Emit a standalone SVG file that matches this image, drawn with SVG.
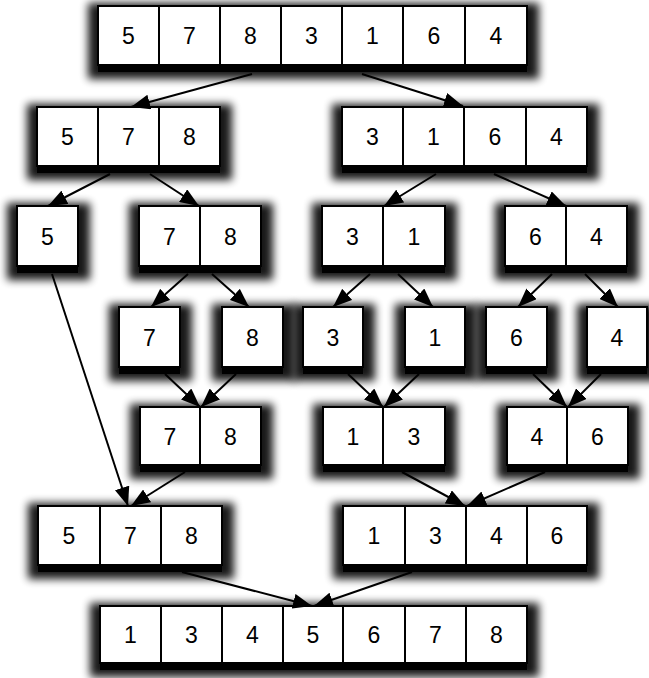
<svg xmlns="http://www.w3.org/2000/svg" width="649" height="678" viewBox="0 0 649 678">
<defs>
<filter id="blur" x="-30%" y="-30%" width="160%" height="160%"><feGaussianBlur stdDeviation="4.5"/></filter>
<marker id="ah" markerUnits="userSpaceOnUse" markerWidth="19" markerHeight="15" refX="19" refY="7.5" orient="auto"><path d="M0,0 L19,7.5 L0,15 z" fill="#000"/></marker>
</defs>
<style>
.sh{fill:#000;opacity:.9;filter:url(#blur)}
.base{fill:#000}
.cell{fill:#fff;stroke:#000;stroke-width:2}
.num{font-family:"Liberation Sans",Arial,sans-serif;font-size:23px;text-anchor:middle;fill:#000}
.edge{stroke:#000;stroke-width:2;fill:none;marker-end:url(#ah)}
</style>
<rect width="649" height="678" fill="#fff"/>

<g id="n0">
<rect class="sh" x="88" y="3" width="451" height="76"/><rect class="base" x="98" y="63" width="429" height="9"/>
<rect class="cell" x="98" y="6" width="61" height="59"/><rect class="cell" x="159" y="6" width="61" height="59"/><rect class="cell" x="220" y="6" width="61" height="59"/><rect class="cell" x="281" y="6" width="61" height="59"/><rect class="cell" x="342" y="6" width="61" height="59"/><rect class="cell" x="403" y="6" width="62" height="59"/><rect class="cell" x="465" y="6" width="62" height="59"/>
<text class="num" x="128.5" y="44">5</text><text class="num" x="189.5" y="44">7</text><text class="num" x="250.5" y="44">8</text><text class="num" x="311.5" y="44">3</text><text class="num" x="372.5" y="44">1</text><text class="num" x="434" y="44">6</text><text class="num" x="496" y="44">4</text>
</g>

<g id="n1">
<rect class="sh" x="27" y="104" width="205" height="76"/><rect class="base" x="37" y="164" width="183" height="9"/>
<rect class="cell" x="37" y="107" width="61" height="59"/><rect class="cell" x="98" y="107" width="61" height="59"/><rect class="cell" x="159" y="107" width="61" height="59"/>
<text class="num" x="67.5" y="145">5</text><text class="num" x="128.5" y="145">7</text><text class="num" x="189.5" y="145">8</text>
</g>

<g id="n2">
<rect class="sh" x="332" y="104" width="267" height="76"/><rect class="base" x="342" y="164" width="245" height="9"/>
<rect class="cell" x="342" y="107" width="61" height="59"/><rect class="cell" x="403" y="107" width="61" height="59"/><rect class="cell" x="464" y="107" width="62" height="59"/><rect class="cell" x="526" y="107" width="61" height="59"/>
<text class="num" x="372.5" y="145">3</text><text class="num" x="433.5" y="145">1</text><text class="num" x="495" y="145">6</text><text class="num" x="556.5" y="145">4</text>
</g>

<g id="n3">
<rect class="sh" x="7" y="203" width="83" height="77"/><rect class="base" x="17" y="264" width="61" height="9"/>
<rect class="cell" x="17" y="206" width="61" height="60"/>
<text class="num" x="47.5" y="244.5">5</text>
</g>

<g id="n4">
<rect class="sh" x="129" y="203" width="144" height="77"/><rect class="base" x="139" y="264" width="122" height="9"/>
<rect class="cell" x="139" y="206" width="61" height="60"/><rect class="cell" x="200" y="206" width="61" height="60"/>
<text class="num" x="169.5" y="244.5">7</text><text class="num" x="230.5" y="244.5">8</text>
</g>

<g id="n5">
<rect class="sh" x="312" y="203" width="145" height="77"/><rect class="base" x="322" y="264" width="123" height="9"/>
<rect class="cell" x="322" y="206" width="61" height="60"/><rect class="cell" x="383" y="206" width="62" height="60"/>
<text class="num" x="352.5" y="244.5">3</text><text class="num" x="414" y="244.5">1</text>
</g>

<g id="n6">
<rect class="sh" x="495" y="203" width="144" height="77"/><rect class="base" x="505" y="264" width="122" height="9"/>
<rect class="cell" x="505" y="206" width="61" height="60"/><rect class="cell" x="566" y="206" width="61" height="60"/>
<text class="num" x="535.5" y="244.5">6</text><text class="num" x="596.5" y="244.5">4</text>
</g>

<g id="n7">
<rect class="sh" x="109" y="304" width="83" height="77"/><rect class="base" x="119" y="365" width="61" height="9"/>
<rect class="cell" x="119" y="307" width="61" height="60"/>
<text class="num" x="149.5" y="345.5">7</text>
</g>
<g id="n8">
<rect class="sh" x="212" y="304" width="83" height="77"/><rect class="base" x="222" y="365" width="61" height="9"/>
<rect class="cell" x="222" y="307" width="61" height="60"/>
<text class="num" x="252.5" y="345.5">8</text>
</g>
<g id="n9">
<rect class="sh" x="293" y="304" width="82" height="77"/><rect class="base" x="303" y="365" width="60" height="9"/>
<rect class="cell" x="303" y="307" width="60" height="60"/>
<text class="num" x="333" y="345.5">3</text>
</g>
<g id="n10">
<rect class="sh" x="395" y="304" width="82" height="77"/><rect class="base" x="405" y="365" width="60" height="9"/>
<rect class="cell" x="405" y="307" width="60" height="60"/>
<text class="num" x="435" y="345.5">1</text>
</g>
<g id="n11">
<rect class="sh" x="476" y="304" width="83" height="77"/><rect class="base" x="486" y="365" width="61" height="9"/>
<rect class="cell" x="486" y="307" width="61" height="60"/>
<text class="num" x="516.5" y="345.5">6</text>
</g>
<g id="n12">
<rect class="sh" x="577" y="304" width="83" height="77"/><rect class="base" x="587" y="365" width="60" height="9"/>
<rect class="cell" x="587" y="307" width="60" height="60"/>
<text class="num" x="617" y="345.5">4</text>
</g>

<g id="n13">
<rect class="sh" x="130" y="404" width="143" height="75"/><rect class="base" x="140" y="463" width="121" height="9"/>
<rect class="cell" x="140" y="407" width="60" height="58"/><rect class="cell" x="200" y="407" width="61" height="58"/>
<text class="num" x="170" y="444.5">7</text><text class="num" x="230.5" y="444.5">8</text>
</g>
<g id="n14">
<rect class="sh" x="313" y="404" width="144" height="75"/><rect class="base" x="323" y="463" width="122" height="9"/>
<rect class="cell" x="323" y="407" width="60" height="58"/><rect class="cell" x="383" y="407" width="62" height="58"/>
<text class="num" x="353" y="444.5">1</text><text class="num" x="414" y="444.5">3</text>
</g>
<g id="n15">
<rect class="sh" x="497" y="404" width="143" height="75"/><rect class="base" x="507" y="463" width="121" height="9"/>
<rect class="cell" x="507" y="407" width="60" height="58"/><rect class="cell" x="567" y="407" width="61" height="58"/>
<text class="num" x="537" y="444.5">4</text><text class="num" x="597.5" y="444.5">6</text>
</g>

<g id="n16">
<rect class="sh" x="28" y="503" width="206" height="76"/><rect class="base" x="38" y="563" width="184" height="9"/>
<rect class="cell" x="38" y="506" width="62" height="59"/><rect class="cell" x="100" y="506" width="61" height="59"/><rect class="cell" x="161" y="506" width="61" height="59"/>
<text class="num" x="69" y="544">5</text><text class="num" x="130.5" y="544">7</text><text class="num" x="191.5" y="544">8</text>
</g>
<g id="n17">
<rect class="sh" x="333" y="503" width="266" height="76"/><rect class="base" x="343" y="563" width="244" height="9"/>
<rect class="cell" x="343" y="506" width="62" height="59"/><rect class="cell" x="405" y="506" width="61" height="59"/><rect class="cell" x="466" y="506" width="61" height="59"/><rect class="cell" x="527" y="506" width="60" height="59"/>
<text class="num" x="374" y="544">1</text><text class="num" x="435.5" y="544">3</text><text class="num" x="496.5" y="544">4</text><text class="num" x="557" y="544">6</text>
</g>

<g id="n18">
<rect class="sh" x="90" y="603" width="449" height="74"/><rect class="base" x="100" y="661" width="427" height="9"/>
<rect class="cell" x="100" y="606" width="61" height="57"/><rect class="cell" x="161" y="606" width="61" height="57"/><rect class="cell" x="222" y="606" width="61" height="57"/><rect class="cell" x="283" y="606" width="60" height="57"/><rect class="cell" x="343" y="606" width="62" height="57"/><rect class="cell" x="405" y="606" width="61" height="57"/><rect class="cell" x="466" y="606" width="61" height="57"/>
<text class="num" x="130.5" y="643">1</text><text class="num" x="191.5" y="643">3</text><text class="num" x="252.5" y="643">4</text><text class="num" x="313" y="643">5</text><text class="num" x="374" y="643">6</text><text class="num" x="435.5" y="643">7</text><text class="num" x="496.5" y="643">8</text>
</g>

<g id="edges">
<line class="edge" x1="252" y1="74" x2="131" y2="107"/>
<line class="edge" x1="362" y1="74" x2="463" y2="106"/>
<line class="edge" x1="110" y1="174" x2="48" y2="206"/>
<line class="edge" x1="150" y1="174" x2="199" y2="206"/>
<line class="edge" x1="436" y1="174" x2="384" y2="206"/>
<line class="edge" x1="494" y1="174" x2="566" y2="206"/>
<line class="edge" x1="52" y1="274" x2="128" y2="506"/>
<line class="edge" x1="188" y1="274" x2="151" y2="307"/>
<line class="edge" x1="212" y1="274" x2="249" y2="307"/>
<line class="edge" x1="370" y1="274" x2="333" y2="307"/>
<line class="edge" x1="398" y1="274" x2="433" y2="307"/>
<line class="edge" x1="552" y1="274" x2="518" y2="307"/>
<line class="edge" x1="585" y1="274" x2="618" y2="307"/>
<line class="edge" x1="165" y1="374" x2="200" y2="407"/>
<line class="edge" x1="236" y1="374" x2="201" y2="407"/>
<line class="edge" x1="348" y1="374" x2="383" y2="407"/>
<line class="edge" x1="419" y1="374" x2="384" y2="407"/>
<line class="edge" x1="533" y1="374" x2="567" y2="407"/>
<line class="edge" x1="601" y1="374" x2="568" y2="407"/>
<line class="edge" x1="185" y1="472" x2="131" y2="506"/>
<line class="edge" x1="402" y1="472" x2="465" y2="506"/>
<line class="edge" x1="545" y1="472" x2="467" y2="506"/>
<line class="edge" x1="182" y1="572" x2="312" y2="606"/>
<line class="edge" x1="412" y1="572" x2="314" y2="606"/>
</g>
</svg>
